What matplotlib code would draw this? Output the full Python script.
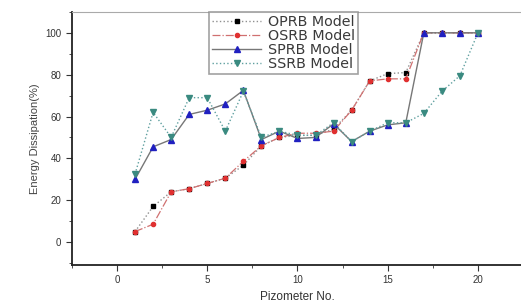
import matplotlib
matplotlib.use("Agg")
import matplotlib.pyplot as plt
from matplotlib.ticker import MultipleLocator

# --- datos ---
piezometros = list(range(1, 21))
oprb = [5, 17, 24, 25.5, 28, 30.5, 36.7, 46, 50, 51, 51, 54, 63, 77, 80.5, 81, 100, 100, 100, 100]
osrb = [5, 8.5, 24, 25.5, 28, 30.5, 38.6, 46, 50, 52, 52, 53, 63, 77, 78, 78, 100, 100, 100, 100]
sprb = [30, 45.5, 49, 61, 63, 66, 72.5, 49, 53, 49.5, 50, 56.5, 48, 53, 56, 57, 100, 100, 100, 100]
ssrb = [32.5, 62, 50, 69, 69, 53, 72, 50, 53, 51, 51, 57, 48, 53, 57, 57, 61.5, 72, 79.5, 100]

plt.rcParams['font.family'] = ['Liberation Sans', 'DejaVu Sans']

fig = plt.figure(figsize=(5.21, 3.05), dpi=100)
ax = fig.add_axes([0.138, 0.131, 0.866, 0.830])

ax.plot(piezometros, oprb, color='#909090', linestyle=':', linewidth=1.0,
        marker='s', markersize=3, markerfacecolor='black', markeredgecolor='black', label='OPRB Model')
ax.plot(piezometros, osrb, color='#d07070', linestyle='-.', linewidth=0.9,
        marker='o', markersize=3, markerfacecolor='#e03030', markeredgecolor='#e03030', label='OSRB Model')
ax.plot(piezometros, sprb, color='#777777', linestyle='-', linewidth=1.0,
        marker='^', markersize=4, markerfacecolor='#2020c0', markeredgecolor='#2020c0', label='SPRB Model')
ax.plot(piezometros, ssrb, color='#60a0a0', linestyle=':', linewidth=1.0,
        marker='v', markersize=4, markerfacecolor='#3a8a80', markeredgecolor='#3a8a80', label='SSRB Model')

ax.set_xlim(-2.5, 22.5)
ax.set_ylim(-11, 110)
ax.xaxis.set_major_locator(MultipleLocator(5))
ax.xaxis.set_minor_locator(MultipleLocator(2.5))
ax.yaxis.set_major_locator(MultipleLocator(20))
ax.yaxis.set_minor_locator(MultipleLocator(10))
ax.tick_params(which='both', direction='out', labelsize=7, colors='#333333')
ax.tick_params(which='major', length=4)
ax.tick_params(which='minor', length=2.5)
for s in ax.spines.values():
    s.set_color('#aaaaaa')
ax.spines['left'].set_color('#222222')
ax.spines['bottom'].set_color('#222222')
ax.spines['left'].set_linewidth(1.3)
ax.spines['bottom'].set_linewidth(1.3)

ax.set_xlabel('Pizometer No.', fontsize=8.5, color='#333333')
ax.set_ylabel('Energy Dissipation(%)', fontsize=8, color='#444444')

leg = ax.legend(loc='upper right', bbox_to_anchor=(0.634, 0.998),
                prop={'family': 'DejaVu Sans', 'size': 10.3},
                frameon=True, fancybox=False, handlelength=3.4, handletextpad=0.5,
                labelspacing=0.0, borderpad=0.2, borderaxespad=0.0)
leg.get_frame().set_edgecolor('#8a8a8a')
leg.get_frame().set_linewidth(1.2)
for t in leg.get_texts():
    t.set_color('#3a3a3a')

plt.savefig('out.png', dpi=100)
